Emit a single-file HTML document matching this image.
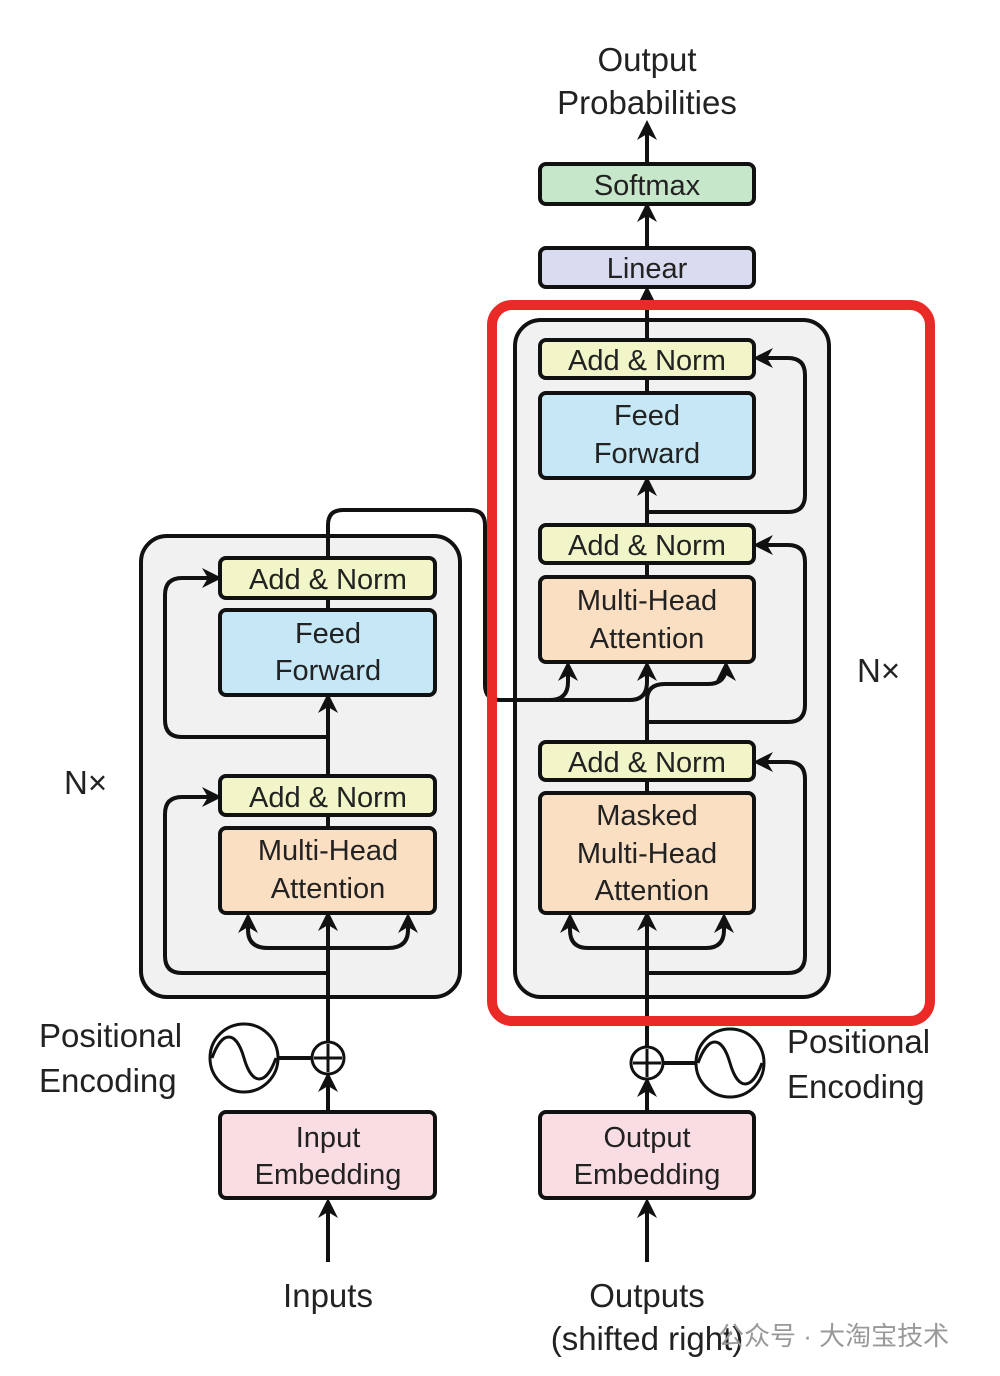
<!DOCTYPE html>
<html><head><meta charset="utf-8"><style>
html,body{margin:0;padding:0;background:#fff}
svg{display:block}
text{font-family:"Liberation Sans","Noto Sans CJK SC",sans-serif;fill:#222}
</style></head><body>
<svg width="1000" height="1376" viewBox="0 0 1000 1376" xmlns="http://www.w3.org/2000/svg">
<defs>
<marker id="a" viewBox="0 0 10 10" refX="8" refY="5" markerWidth="5" markerHeight="5" orient="auto"><path d="M0,0 L10,5 L0,10 L3,5 z" fill="#111"/></marker>
</defs>
<rect width="1000" height="1376" fill="#fff"/>
<rect x="141" y="536" width="319" height="461" rx="26" fill="#f1f1f1" stroke="#111" stroke-width="4"/>
<rect x="515" y="320" width="314" height="677" rx="26" fill="#f1f1f1" stroke="#111" stroke-width="4"/>
<g fill="none" stroke="#111" stroke-width="4">
<path d="M328,1262 V1202" marker-end="url(#a)"/>
<path d="M328,1112 V1076" marker-end="url(#a)"/>
<path d="M328,1042 V915" marker-end="url(#a)"/>
<path d="M328,948 H268 Q248,948 248,930 V917" marker-end="url(#a)"/>
<path d="M328,948 H388 Q408,948 408,930 V917" marker-end="url(#a)"/>
<path d="M328,973 H182 Q165,973 165,956 V814 Q165,797 182,797 H218" marker-end="url(#a)"/>
<path d="M328,815 V828"/>
<path d="M328,776 V697" marker-end="url(#a)"/>
<path d="M328,737 H182 Q165,737 165,720 V595 Q165,578 182,578 H218" marker-end="url(#a)"/>
<path d="M328,598 V610"/>
<path d="M328,558 V525 Q328,510 343,510 H470 Q485,510 485,525 V685 Q485,700 500,700 H550 Q568,700 568,682 V665" marker-end="url(#a)"/>
<path d="M540,700 H630 Q647,700 647,682 V665" marker-end="url(#a)"/>
<path d="M647,1262 V1202" marker-end="url(#a)"/>
<path d="M647,1112 V1081" marker-end="url(#a)"/>
<path d="M647,1047 V915" marker-end="url(#a)"/>
<path d="M647,948 H588 Q570,948 570,930 V917" marker-end="url(#a)"/>
<path d="M647,948 H706 Q724,948 724,930 V917" marker-end="url(#a)"/>
<path d="M647,973 H788 Q805,973 805,956 V779 Q805,762 788,762 H757" marker-end="url(#a)"/>
<path d="M647,780 V793"/>
<path d="M647,742 V700 Q647,684 665,684 H708 Q726,684 726,666 V665" marker-end="url(#a)"/>
<path d="M647,722 H788 Q805,722 805,705 V562 Q805,545 788,545 H757" marker-end="url(#a)"/>
<path d="M647,563 V577"/>
<path d="M647,525 V480" marker-end="url(#a)"/>
<path d="M647,512 H788 Q805,512 805,495 V375 Q805,358 788,358 H757" marker-end="url(#a)"/>
<path d="M647,378 V393"/>
<path d="M647,340 V290" marker-end="url(#a)"/>
<path d="M647,248 V206" marker-end="url(#a)"/>
<path d="M647,164 V124" marker-end="url(#a)"/>
<path d="M278,1058 H312"/>
<path d="M663,1063 H696"/>
</g>
<g stroke="#111" stroke-width="4">
<rect x="220" y="558" width="215" height="40" rx="6" fill="#f2f5c7"/>
<rect x="220" y="610" width="215" height="85" rx="6" fill="#c5e7f6"/>
<rect x="220" y="776" width="215" height="39" rx="6" fill="#f2f5c7"/>
<rect x="220" y="828" width="215" height="85" rx="6" fill="#fbdfc2"/>
<rect x="540" y="340" width="214" height="38" rx="6" fill="#f2f5c7"/>
<rect x="540" y="393" width="214" height="85" rx="6" fill="#c5e7f6"/>
<rect x="540" y="525" width="214" height="38" rx="6" fill="#f2f5c7"/>
<rect x="540" y="577" width="214" height="85" rx="6" fill="#fbdfc2"/>
<rect x="540" y="742" width="214" height="38" rx="6" fill="#f2f5c7"/>
<rect x="540" y="793" width="214" height="120" rx="6" fill="#fbdfc2"/>
<rect x="540" y="248" width="214" height="39" rx="6" fill="#d9dbf1"/>
<rect x="540" y="164" width="214" height="40" rx="6" fill="#c6e7c9"/>
<rect x="220" y="1112" width="215" height="86" rx="6" fill="#f9dde3"/>
<rect x="540" y="1112" width="214" height="86" rx="6" fill="#f9dde3"/>
</g>
<g fill="#fff" stroke="#111" stroke-width="3">
<circle cx="244" cy="1058" r="34"/>
<circle cx="328" cy="1058" r="16"/>
<circle cx="730" cy="1063" r="34"/>
<circle cx="647" cy="1063" r="16"/>
</g>
<g fill="none" stroke="#111" stroke-width="3">
<path d="M212,1058 C222,1030 236,1030 244,1058 C252,1086 266,1086 276,1058"/>
<path d="M698,1063 C708,1035 722,1035 730,1063 C738,1091 752,1091 762,1063"/>
<path d="M328,1044 V1072 M314,1058 H342"/>
<path d="M647,1049 V1077 M633,1063 H661"/>
</g>
<rect x="492" y="305" width="438" height="716" rx="20" fill="none" stroke="#ea2a26" stroke-width="10"/>
<g font-size="29" text-anchor="middle">
<text x="328" y="589">Add &amp; Norm</text>
<text x="328" y="643">Feed</text>
<text x="328" y="680">Forward</text>
<text x="328" y="807">Add &amp; Norm</text>
<text x="328" y="860">Multi-Head</text>
<text x="328" y="898">Attention</text>
<text x="647" y="370">Add &amp; Norm</text>
<text x="647" y="425">Feed</text>
<text x="647" y="463">Forward</text>
<text x="647" y="555">Add &amp; Norm</text>
<text x="647" y="610">Multi-Head</text>
<text x="647" y="648">Attention</text>
<text x="647" y="772">Add &amp; Norm</text>
<text x="647" y="825">Masked</text>
<text x="647" y="863">Multi-Head</text>
<text x="652" y="900">Attention</text>
<text x="647" y="278">Linear</text>
<text x="647" y="195">Softmax</text>
<text x="328" y="1147">Input</text>
<text x="328" y="1184">Embedding</text>
<text x="647" y="1147">Output</text>
<text x="647" y="1184">Embedding</text>
</g>
<g font-size="33" text-anchor="middle">
<text x="647" y="71">Output</text>
<text x="647" y="114">Probabilities</text>
<text x="328" y="1307">Inputs</text>
<text x="647" y="1307">Outputs</text>
<text x="647" y="1350">(shifted right)</text>
</g>
<g font-size="33">
<text x="39" y="1047">Positional</text>
<text x="39" y="1092">Encoding</text>
<text x="787" y="1053">Positional</text>
<text x="787" y="1098">Encoding</text>
<text x="64" y="794">N×</text>
<text x="857" y="682">N×</text>
</g>
<text x="718" y="1345" font-size="26" style="fill:#999">公众号 · 大淘宝技术</text>
</svg>
</body></html>
